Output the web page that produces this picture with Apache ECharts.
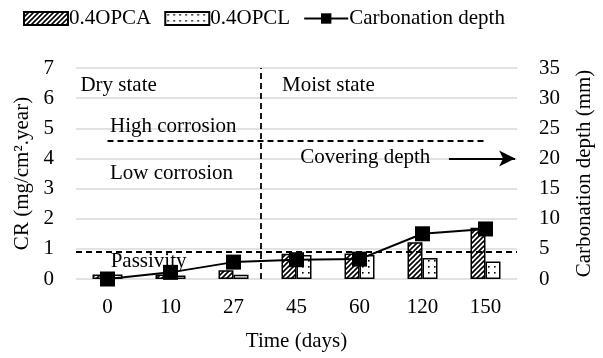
<!DOCTYPE html>
<html><head><meta charset="utf-8">
<script src="https://cdn.jsdelivr.net/npm/echarts@6/dist/echarts.min.js"></script>
<style>html,body{margin:0;padding:0;background:#fff}#c{width:603px;height:358px}</style>
</head><body><div id="c"></div><script>
// ---- data ----
const categories = ['0', '10', '27', '45', '60', '120', '150'];
const opca = [0.15, 0.15, 0.29, 0.84, 0.85, 1.22, 1.70];
const opcl = [0.15, 0.12, 0.14, 0.80, 0.80, 0.70, 0.58];
const carbDepth = [0, 1.1, 2.8, 3.2, 3.3, 7.5, 8.3];
const leftAxis = { min: 0, max: 7, interval: 1 };
const rightAxis = { min: 0, max: 35, interval: 5 };
const passivityLevel = 0.92;
const highCorrosionLevel = 4.57;
const coveringDepthMm = 20;
const stateBoundary = 2.43;

const FONT = '"Liberation Serif", "Times New Roman", serif';
const FS = 21;

function makePattern(kind) {
  const c = document.createElement('canvas');
  const s = kind === 'hatch' ? 5 : 6;
  c.width = s; c.height = s;
  const g = c.getContext('2d');
  g.fillStyle = '#fff'; g.fillRect(0, 0, s, s);
  g.fillStyle = '#000'; g.strokeStyle = '#000';
  if (kind === 'hatch') {
    g.lineWidth = 1.6;
    g.beginPath();
    g.moveTo(-1, s + 1); g.lineTo(s + 1, -1);
    g.moveTo(-1, 1); g.lineTo(1, -1);
    g.moveTo(s - 1, s + 1); g.lineTo(s + 1, s - 1);
    g.stroke();
  } else {
    g.fillRect(2, 2, 1.6, 1.6);
  }
  return { image: c, repeat: 'repeat' };
}

const chart = echarts.init(document.getElementById('c'), null, { renderer: 'canvas' });
const txt = (name, x, y) => ({
  name, coord: [x, y], symbol: 'circle', symbolSize: 0,
  label: { show: true, position: 'right', distance: 0, formatter: name, color: '#000', fontFamily: FONT, fontSize: FS }
});

chart.setOption({
  animation: false,
  backgroundColor: '#fff',
  textStyle: { fontFamily: FONT, color: '#000' },
  legend: {
    top: 8, left: 23, padding: 0, itemWidth: 44, itemHeight: 13, itemGap: 13,
    textStyle: { fontFamily: FONT, fontSize: FS, color: '#000', padding: [0, 0, 0, -4] },
    data: [
      { name: '0.4OPCA', icon: 'rect' },
      { name: '0.4OPCL', icon: 'rect' },
      { name: 'Carbonation depth' }
    ]
  },
  grid: { left: 76, right: 85, top: 68, bottom: 79 },
  xAxis: [
    {
      type: 'category', data: categories,
      axisLine: { show: false }, axisTick: { show: false },
      axisLabel: { color: '#000', fontFamily: FONT, fontSize: FS, margin: 18 },
      name: 'Time (days)', nameLocation: 'middle', nameGap: 52,
      nameTextStyle: { color: '#000', fontFamily: FONT, fontSize: FS }
    },
    { type: 'value', min: -0.5, max: 6.5, show: false }
  ],
  yAxis: [
    {
      type: 'value', min: leftAxis.min, max: leftAxis.max, interval: leftAxis.interval,
      axisLine: { show: false }, axisTick: { show: false },
      splitLine: { lineStyle: { color: '#d9d9d9', width: 1.5 } },
      axisLabel: { color: '#000', fontFamily: FONT, fontSize: FS, margin: 22 },
      name: 'CR (mg/cm².year)', nameLocation: 'middle', nameGap: 42,
      nameTextStyle: { color: '#000', fontFamily: FONT, fontSize: FS }
    },
    {
      type: 'value', min: rightAxis.min, max: rightAxis.max, interval: rightAxis.interval,
      axisLine: { show: false }, axisTick: { show: false }, splitLine: { show: false },
      axisLabel: { color: '#000', fontFamily: FONT, fontSize: FS, margin: 22 },
      name: 'Carbonation depth (mm)', nameLocation: 'middle', nameGap: 57,
      nameTextStyle: { color: '#000', fontFamily: FONT, fontSize: FS }
    }
  ],
  series: [
    {
      name: '0.4OPCA', type: 'bar', data: opca, barWidth: 15, barGap: '0%',
      itemStyle: { color: makePattern('hatch'), borderColor: '#000', borderWidth: 1.5 }
    },
    {
      name: '0.4OPCL', type: 'bar', data: opcl, barWidth: 15, barGap: '0%',
      itemStyle: { color: makePattern('dots'), borderColor: '#000', borderWidth: 1.5 }
    },
    {
      name: 'Carbonation depth', type: 'line', yAxisIndex: 1, data: carbDepth,
      symbol: 'rect', symbolSize: 15, clip: false, z: 5,
      lineStyle: { color: '#000', width: 2 }, itemStyle: { color: '#000' }
    },
    {
      name: 'annot', type: 'line', xAxisIndex: 1, yAxisIndex: 0, data: [], silent: true,
      markLine: {
        silent: true, symbol: 'none', animation: false,
        label: { show: false },
        lineStyle: { color: '#000', type: [6, 4], width: 1.8 },
        data: [
          { xAxis: stateBoundary },
          [{ coord: [-0.5, passivityLevel] }, { coord: [6.5, passivityLevel] }],
          [{ coord: [0, highCorrosionLevel] }, { coord: [6, highCorrosionLevel] }],
          [
            { coord: [5.42, coveringDepthMm / rightAxis.max * leftAxis.max], symbol: 'none', lineStyle: { type: 'solid', width: 2.2 } },
            { coord: [6.47, coveringDepthMm / rightAxis.max * leftAxis.max], symbol: 'arrow', symbolSize: [12, 16], lineStyle: { type: 'solid', width: 2.2 } }
          ]
        ]
      },
      markPoint: {
        silent: true,
        data: [
          txt('Dry state', -0.43, 6.42),
          txt('Moist state', 2.77, 6.42),
          txt('High corrosion', 0.04, 5.07),
          txt('Low corrosion', 0.04, 3.50),
          txt('Covering depth', 3.06, 4.03),
          txt('Passivity', 0.05, 0.585)
        ]
      }
    }
  ]
});
</script></body></html>
